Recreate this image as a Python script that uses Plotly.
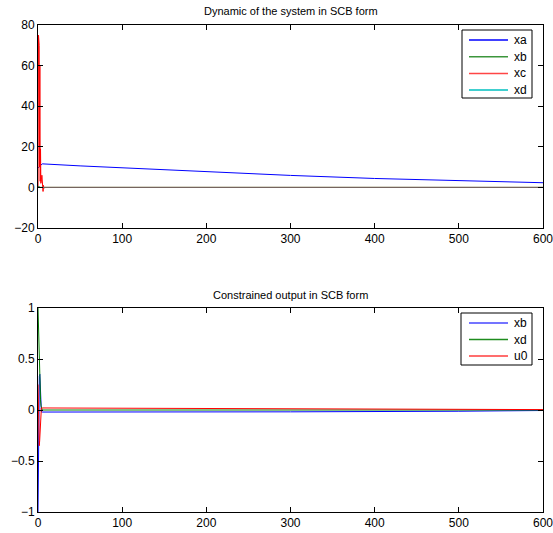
import plotly.graph_objects as go

# ---- Top panel data ----
t_xa = [0, 5, 50, 100, 200, 300, 400, 500, 600]
xa = [9.5, 11.6, 10.6, 9.6, 7.6, 5.9, 4.4, 3.2, 2.3]

t_xb = [0, 1, 3, 600]
xb = [0.5, 0.3, 0.0, 0.0]

t_xc = [0, 0.6, 1.0, 1.4, 1.8, 2.2, 2.6, 3.0, 3.4, 3.8, 4.2, 4.6, 5.0, 5.5, 6.0, 6.5, 7.0, 8.0, 600]
xc = [0, 75, 40, 70, 10, 60, 3, 19, 2, 17, 4, 6, 1, 5, -2, 1, -0.5, 0, 0]

t_xd = [0, 1, 3, 600]
xd = [0.3, 0.2, 0.0, 0.0]

# ---- Bottom panel data ----
t_b = [0, 0.4, 1.0, 1.6, 2.2, 2.8, 3.4, 4.0, 5.0, 100, 300, 500, 600]
yb = [-1.0, -0.6, 0.1, 0.33, 0.35, 0.2, 0.05, -0.02, -0.02, -0.02, -0.018, -0.012, -0.005]

t_d = [0, 0.6, 1.2, 1.8, 2.4, 3.0, 3.6, 4.2, 5.0, 600]
yd = [1.0, 0.75, 0.55, 0.35, 0.2, 0.1, 0.04, 0.01, 0.0, 0.0]

t_u = [0, 0.5, 1.0, 1.5, 2.0, 2.5, 3.0, 3.5, 4.0, 5.0, 100, 300, 500, 600]
u0 = [0.25, -0.1, -0.3, -0.35, -0.3, -0.18, -0.05, 0.01, 0.02, 0.02, 0.018, 0.015, 0.01, 0.004]

xticks = [0, 100, 200, 300, 400, 500, 600]
top_yticks = [-20, 0, 20, 40, 60, 80]
bot_yticks = [-1, -0.5, 0, 0.5, 1]
bot_yticktext = ["\u22121", "\u22120.5", "0", "0.5", "1"]

top_names = ["xa", "xb", "xc", "xd"]
bot_names = ["xb", "xd", "u0"]

BLUE = "rgb(0,0,255)"
GREEN = "rgb(0,128,0)"
RED = "rgb(255,0,0)"
CYAN = "rgb(0,191,191)"
top_colors = [BLUE, "rgb(60,150,60)", "rgb(255,70,70)", CYAN]
bot_colors = ["rgb(70,70,255)", "rgb(30,140,30)", "rgb(255,60,60)"]

W, H = 553, 533
ML, MR, MT, MB = 38, 10, 25, 21
PW, PH = W - ML - MR, H - MT - MB


def px(xp):
    return (xp - ML) / PW


def py(yp):
    return (H - MB - yp) / PH


fig = go.Figure()
fig.add_trace(go.Scatter(x=t_xa, y=xa, mode="lines", name="xa", line=dict(color=BLUE, width=1), xaxis="x", yaxis="y"))
fig.add_trace(go.Scatter(x=t_xb, y=xb, mode="lines", name="xb", line=dict(color=GREEN, width=1), xaxis="x", yaxis="y"))
fig.add_trace(go.Scatter(x=t_xc, y=xc, mode="lines", name="xc", line=dict(color=RED, width=1), xaxis="x", yaxis="y"))
fig.add_trace(go.Scatter(x=t_xd, y=xd, mode="lines", name="xd", line=dict(color=CYAN, width=1), opacity=0.55, xaxis="x", yaxis="y"))

fig.add_trace(go.Scatter(x=t_b, y=yb, mode="lines", name="xb", line=dict(color=BLUE, width=1), xaxis="x2", yaxis="y2"))
fig.add_trace(go.Scatter(x=t_d, y=yd, mode="lines", name="xd", line=dict(color=GREEN, width=1), xaxis="x2", yaxis="y2"))
fig.add_trace(go.Scatter(x=t_u, y=u0, mode="lines", name="u0", line=dict(color=RED, width=1), xaxis="x2", yaxis="y2"))

axis_common = dict(showline=True, linecolor="black", linewidth=1, mirror="ticks", ticks="inside",
                   ticklen=5, tickcolor="black", showgrid=False, zeroline=False,
                   tickfont=dict(size=12, color="black"), automargin=False,
                   ticklabeloverflow="allow")

shapes = []
annotations = [
    dict(text="Dynamic of the system in SCB form", x=0.5, y=py(25), xref="paper", yref="paper",
         xanchor="center", yanchor="bottom", yshift=6, showarrow=False, font=dict(size=11)),
    dict(text="Constrained output in SCB form", x=0.5, y=py(308), xref="paper", yref="paper",
         xanchor="center", yanchor="bottom", yshift=5, showarrow=False, font=dict(size=11)),
]


def add_legend(names, colors, box, first_y, step):
    x0, y0, x1, y1 = box
    shapes.append(dict(type="rect", xref="paper", yref="paper", x0=px(x0), x1=px(x1),
                       y0=py(y1), y1=py(y0), line=dict(color="black", width=1),
                       fillcolor="white", layer="above"))
    for i, (n, c) in enumerate(zip(names, colors)):
        yy = first_y + i * step
        shapes.append(dict(type="line", xref="paper", yref="paper", x0=px(469), x1=px(508),
                           y0=py(yy), y1=py(yy), line=dict(color=c, width=1.5), layer="above"))
        annotations.append(dict(text=n, x=px(512), y=py(yy), xref="paper", yref="paper",
                                xanchor="left", yanchor="middle", showarrow=False,
                                font=dict(size=12, color="black")))


add_legend(top_names, top_colors, (462, 30, 532, 98), 40, 16.7)
add_legend(bot_names, bot_colors, (461, 313, 532, 365), 323, 16.5)

fig.update_layout(
    width=W, height=H,
    margin=dict(l=ML, r=MR, t=MT, b=MB, autoexpand=False),
    paper_bgcolor="white", plot_bgcolor="white",
    font=dict(family="Liberation Sans, Arial, sans-serif", color="black", size=12),
    showlegend=False,
    xaxis=dict(domain=[0, 1], anchor="y", range=[0, 600], tickvals=xticks, **axis_common),
    yaxis=dict(domain=[py(228), 1], anchor="x", range=[-20, 80], tickvals=top_yticks, **axis_common),
    xaxis2=dict(domain=[0, 1], anchor="y2", range=[0, 600], tickvals=xticks, **axis_common),
    yaxis2=dict(domain=[0, py(308)], anchor="x2", range=[-1, 1], tickvals=bot_yticks,
                ticktext=bot_yticktext, **axis_common),
    shapes=shapes,
    annotations=annotations,
)

fig.write_html("out.html")
